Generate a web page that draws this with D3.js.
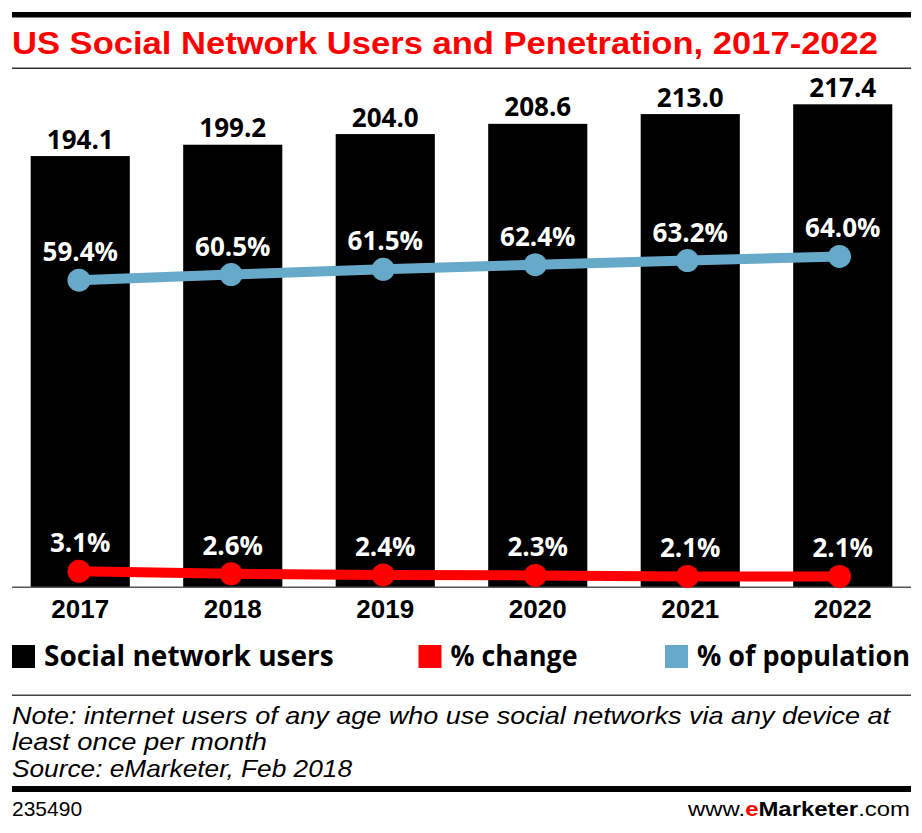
<!DOCTYPE html>
<html><head><meta charset="utf-8">
<script src="https://cdn.jsdelivr.net/npm/d3@7"></script>
<style>body{margin:0;background:#fff}svg{display:block}</style>
</head><body>
<svg id="c" width="922" height="833"></svg>
<script>
// ---- data ----
const years = ["2017","2018","2019","2020","2021","2022"];
const users = [194.1, 199.2, 204.0, 208.6, 213.0, 217.4];
const pctChange = [3.1, 2.6, 2.4, 2.3, 2.1, 2.1];
const pctPopulation = [59.4, 60.5, 61.5, 62.4, 63.2, 64.0];
const legendLabels = ["Social network users", "% change", "% of population"];
const title = "US Social Network Users and Penetration, 2017-2022";
const noteLines = ["Note: internet users of any age who use social networks via any device at",
                   "least once per month", "Source: eMarketer, Feb 2018"];
const chartId = "235490";

const RED = "#ff0000", BLUE = "#67a9c9";
const svg = d3.select("#c");

function fit(sel, w) {
  const n = sel.node();
  const len = n.getComputedTextLength();
  if (Math.abs(len - w) > 1) sel.attr("textLength", w).attr("lengthAdjust", "spacingAndGlyphs");
  return sel;
}

// header
svg.append("rect").attr("x", 12).attr("y", 12).attr("width", 899).attr("height", 5.5).attr("fill", "#000");
fit(svg.append("text").attr("x", 12).attr("y", 53.5).attr("fill", RED)
  .attr("font-family", "Liberation Sans, Arial, sans-serif").attr("font-weight", 700)
  .attr("font-size", 32).text(title), 866);
svg.append("rect").attr("x", 12).attr("y", 67.5).attr("width", 899).attr("height", 1.5).attr("fill", "#333");

// scales
const x = d3.scaleBand().domain(years).range([12, 911]).paddingInner(0.35).paddingOuter(0.1225);
const y = d3.scaleLinear().domain([0, 217.4]).range([587.3, 104.3]);
const yp = d3.scaleLinear().domain([0, 100]).range([587.3, 70.3]);
const xp = d3.scalePoint().domain(years).range([79, 839.5]);

// bars
svg.append("g").selectAll("rect").data(users).join("rect")
  .attr("x", (d, i) => x(years[i])).attr("width", x.bandwidth())
  .attr("y", d => y(d)).attr("height", d => y(0) - y(d)).attr("fill", "#000");

// bar value labels
svg.append("g").selectAll("text").data(users).join("text")
  .attr("x", (d, i) => x(years[i]) + x.bandwidth() / 2).attr("y", d => y(d) - 7.5)
  .attr("text-anchor", "middle").attr("font-family", "Open Sans, sans-serif")
  .attr("font-weight", 700).attr("font-size", 26).attr("fill", "#000")
  .text(d => d.toFixed(1));

// baseline / axis
const axis = svg.append("g").attr("transform", `translate(0,${y(0)})`)
  .call(d3.axisBottom(x).tickSize(0).tickPadding(12));
axis.select(".domain").remove();
axis.selectAll("text").attr("font-family", "Liberation Sans, Arial, sans-serif")
  .attr("font-weight", 700).attr("font-size", 26).attr("fill", "#000").attr("dy", "0.71em");
svg.append("line").attr("x1", 12).attr("x2", 911).attr("y1", y(0)).attr("y2", y(0))
  .attr("stroke", "#555").attr("stroke-width", 1.5);

// lines
function series(vals, color) {
  const g = svg.append("g");
  g.append("path").datum(vals)
    .attr("d", d3.line().x((d, i) => xp(years[i])).y(d => yp(d)))
    .attr("fill", "none").attr("stroke", color).attr("stroke-width", 10);
  g.selectAll("circle").data(vals).join("circle")
    .attr("cx", (d, i) => xp(years[i])).attr("cy", d => yp(d)).attr("r", 11.5).attr("fill", color);
  g.selectAll("text").data(vals).join("text")
    .attr("x", (d, i) => x(years[i]) + x.bandwidth() / 2).attr("y", d => yp(d) - 19)
    .attr("text-anchor", "middle").attr("font-family", "Open Sans, sans-serif")
    .attr("font-weight", 700).attr("font-size", 26).attr("fill", "#fff")
    .text(d => d.toFixed(1) + "%");
}
series(pctPopulation, BLUE);
series(pctChange, RED);

// legend
const legColors = ["#000", RED, BLUE];
const legX = [12, 418.5, 665];
const legW = [289, 127, 213];
legendLabels.forEach((lab, i) => {
  svg.append("rect").attr("x", legX[i]).attr("y", 645).attr("width", 23).attr("height", 23).attr("fill", legColors[i]);
  fit(svg.append("text").attr("x", legX[i] + 32).attr("y", 665.5)
    .attr("font-family", "Open Sans, sans-serif").attr("font-weight", 700).attr("font-size", 28)
    .attr("fill", "#000").text(lab), legW[i]);
});

// footer
svg.append("rect").attr("x", 12).attr("y", 694.5).attr("width", 899).attr("height", 1.5).attr("fill", "#444");
const noteW = [878, 255, 340];
noteLines.forEach((t, i) => {
  const s = svg.append("text").attr("x", 12).attr("y", 723.5 + i * 26.7)
    .attr("font-family", "Liberation Sans, Arial, sans-serif").attr("font-style", "italic")
    .attr("font-size", 24).attr("fill", "#000").text(t);
  fit(s, noteW[i]);
});
svg.append("rect").attr("x", 12).attr("y", 786).attr("width", 899).attr("height", 6).attr("fill", "#000");
fit(svg.append("text").attr("x", 12).attr("y", 816).attr("font-family", "Liberation Sans, Arial, sans-serif")
  .attr("font-size", 21).attr("fill", "#000").text(chartId), 70);
const site = svg.append("text").attr("x", 688).attr("y", 816)
  .attr("font-family", "Liberation Sans, Arial, sans-serif").attr("font-size", 21).attr("fill", "#000");
site.append("tspan").text("www.");
site.append("tspan").attr("fill", RED).attr("font-weight", 700).text("e");
site.append("tspan").attr("font-weight", 700).text("Marketer");
site.append("tspan").text(".com");
fit(site, 222);
</script>
</body></html>
